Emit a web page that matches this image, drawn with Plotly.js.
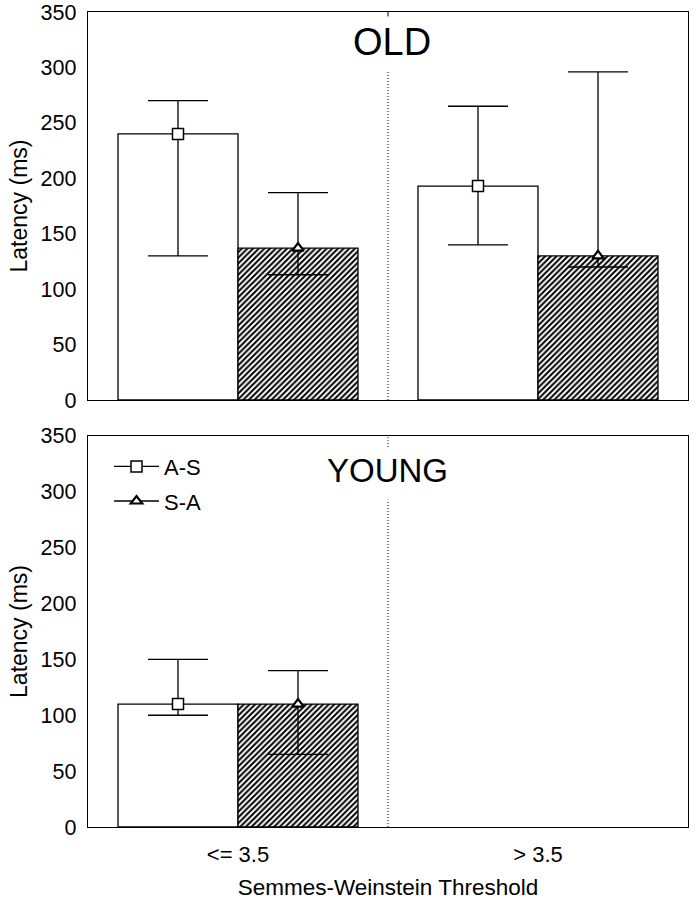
<!DOCTYPE html>
<html>
<head>
<meta charset="utf-8">
<script src="https://cdn.plot.ly/plotly-3.0.1.min.js"></script>
<style>html,body{margin:0;padding:0;background:#fff;}#chart{width:695px;height:900px;}</style>
</head>
<body>
<div id="chart"></div>
<script>
// ---- data ----
const categories = ["<= 3.5", "> 3.5"];
const seriesNames = ["A-S", "S-A"];

// OLD panel
const oldAS      = [240, 193];
const oldAS_high = [270, 265];
const oldAS_low  = [130, 140];
const oldSA      = [137, 130];
const oldSA_high = [187, 296];
const oldSA_low  = [113, 120];

// YOUNG panel (no data for > 3.5)
const youngAS      = [110, null];
const youngAS_high = [150, null];
const youngAS_low  = [100, null];
const youngSA      = [110, null];
const youngSA_high = [140, null];
const youngSA_low  = [65, null];

const yTicks = [0, 50, 100, 150, 200, 250, 300, 350];
const panelLabels = ["OLD", "YOUNG"];

// ---- helpers ----
const FONT = "Liberation Sans, Arial, Helvetica, sans-serif";
const plus  = (v, h) => v.map((x, i) => x == null ? null : h[i] - x);
const minus = (v, l) => v.map((x, i) => x == null ? null : x - l[i]);

function errY(v, h, l) {
  return {type: 'data', symmetric: false, array: plus(v, h), arrayminus: minus(v, l),
          color: 'black', thickness: 1.3, width: 30};
}
function barTrace(v, h, l, hatched, xa, ya, name) {
  return {
    type: 'bar', x: categories, y: v, xaxis: xa, yaxis: ya, name: name, showlegend: false,
    marker: {
      color: 'white',
      line: {color: 'black', width: 1.3},
      pattern: hatched ? {shape: '/', fgcolor: 'black', bgcolor: 'white', size: 4, solidity: 0.5, fillmode: 'replace'} : {shape: ''}
    },
    error_y: errY(v, h, l),
    offsetgroup: name
  };
}
function markerTrace(v, sym, size, xa, ya, name, legend) {
  return {
    type: 'scatter', mode: legend ? 'lines+markers' : 'markers',
    x: categories, y: v, xaxis: xa, yaxis: ya, name: name,
    showlegend: legend, legendgroup: name, offsetgroup: name,
    line: {color: 'black', width: 1.3},
    marker: {symbol: sym, size: size, color: 'white', line: {color: 'black', width: sym.indexOf('triangle') === 0 ? 2.2 : 1.5}},
    cliponaxis: false
  };
}

const traces = [
  barTrace(oldAS, oldAS_high, oldAS_low, false, 'x', 'y', seriesNames[0]),
  barTrace(oldSA, oldSA_high, oldSA_low, true, 'x', 'y', seriesNames[1]),
  barTrace(youngAS, youngAS_high, youngAS_low, false, 'x2', 'y2', seriesNames[0]),
  barTrace(youngSA, youngSA_high, youngSA_low, true, 'x2', 'y2', seriesNames[1]),
  markerTrace(oldAS, 'square', 11, 'x', 'y', seriesNames[0], false),
  markerTrace(oldSA, 'triangle-up', 10, 'x', 'y', seriesNames[1], false),
  markerTrace(youngAS, 'square', 11, 'x2', 'y2', seriesNames[0], true),
  markerTrace(youngSA, 'triangle-up', 10, 'x2', 'y2', seriesNames[1], true)
];

const yBase = {
  range: [0, 350], tickvals: yTicks, ticks: '', showgrid: false, zeroline: false,
  showline: true, linecolor: 'black', linewidth: 1.3, mirror: true,
  tickfont: {family: FONT, size: 21.5, color: 'black'}, ticklabelstandoff: 6,
  title: {text: 'Latency (ms)', font: {family: FONT, size: 23, color: 'black'}, standoff: 6}
};
const yRight = {
  range: [0, 350], tickvals: yTicks, ticks: 'inside', ticklen: 5, tickwidth: 1, tickcolor: 'black',
  showticklabels: false, showgrid: false, zeroline: false, showline: false, side: 'right'
};
const xBase = {
  type: 'category', categoryarray: categories, range: [-0.5, 1.5], ticks: '', showgrid: false,
  zeroline: false, showline: true, linecolor: 'black', linewidth: 1.3, mirror: true
};

const dotted = {color: 'black', width: 1, dash: '1px,2px'};

const layout = {
  width: 695, height: 900,
  margin: {l: 88, r: 7, t: 12, b: 73},
  paper_bgcolor: 'white', plot_bgcolor: 'white',
  font: {family: FONT, color: 'black'},
  barmode: 'group', bargap: 0.2, bargroupgap: 0,
  scattermode: 'group', scattergap: 0.2,
  xaxis: Object.assign({}, xBase, {domain: [0, 1], anchor: 'y', showticklabels: false}),
  xaxis2: Object.assign({}, xBase, {domain: [0, 1], anchor: 'y2', showticklabels: true,
    tickfont: {family: FONT, size: 22, color: 'black'}, ticklabelstandoff: 7,
    title: {text: 'Semmes-Weinstein Threshold', font: {family: FONT, size: 22.5, color: 'black'}, standoff: 16}}),
  yaxis: Object.assign({}, yBase, {domain: [0.5239, 1], anchor: 'x'}),
  yaxis2: Object.assign({}, yBase, {domain: [0, 0.4798], anchor: 'x2'}),
  yaxis3: Object.assign({}, yRight, {overlaying: 'y', anchor: 'x'}),
  yaxis4: Object.assign({}, yRight, {overlaying: 'y2', anchor: 'x2'}),
  showlegend: true,
  legend: {
    x: 0.035, y: 0.468, xanchor: 'left', yanchor: 'top', xref: 'paper', yref: 'paper',
    bgcolor: 'rgba(0,0,0,0)', borderwidth: 0, itemwidth: 45,
    font: {family: FONT, size: 22, color: 'black'},
    traceorder: 'grouped', tracegroupgap: 3
  },
  shapes: [
    {type: 'line', xref: 'x', yref: 'y', x0: 0.5, x1: 0.5, y0: 0, y1: 297, line: dotted},
    {type: 'line', xref: 'x', yref: 'y', x0: 0.5, x1: 0.5, y0: 346, y1: 350, line: {color: 'black', width: 1}},
    {type: 'line', xref: 'x2', yref: 'y2', x0: 0.5, x1: 0.5, y0: 0, y1: 293, line: dotted},
    {type: 'line', xref: 'x2', yref: 'y2', x0: 0.5, x1: 0.5, y0: 340, y1: 350, line: dotted}
  ],
  annotations: [
    {text: panelLabels[0], xref: 'x', yref: 'y', x: 0.5, y: 323, xanchor: 'center', yanchor: 'middle', xshift: 4,
     showarrow: false, font: {family: FONT, size: 38, color: 'black'}},
    {text: panelLabels[1], xref: 'x2', yref: 'y2', x: 0.5, y: 319, xanchor: 'center', yanchor: 'middle', xshift: -1,
     showarrow: false, font: {family: FONT, size: 33, color: 'black'}}
  ]
};

Plotly.newPlot('chart', traces, layout, {displayModeBar: false, staticPlot: true});
</script>
</body>
</html>
